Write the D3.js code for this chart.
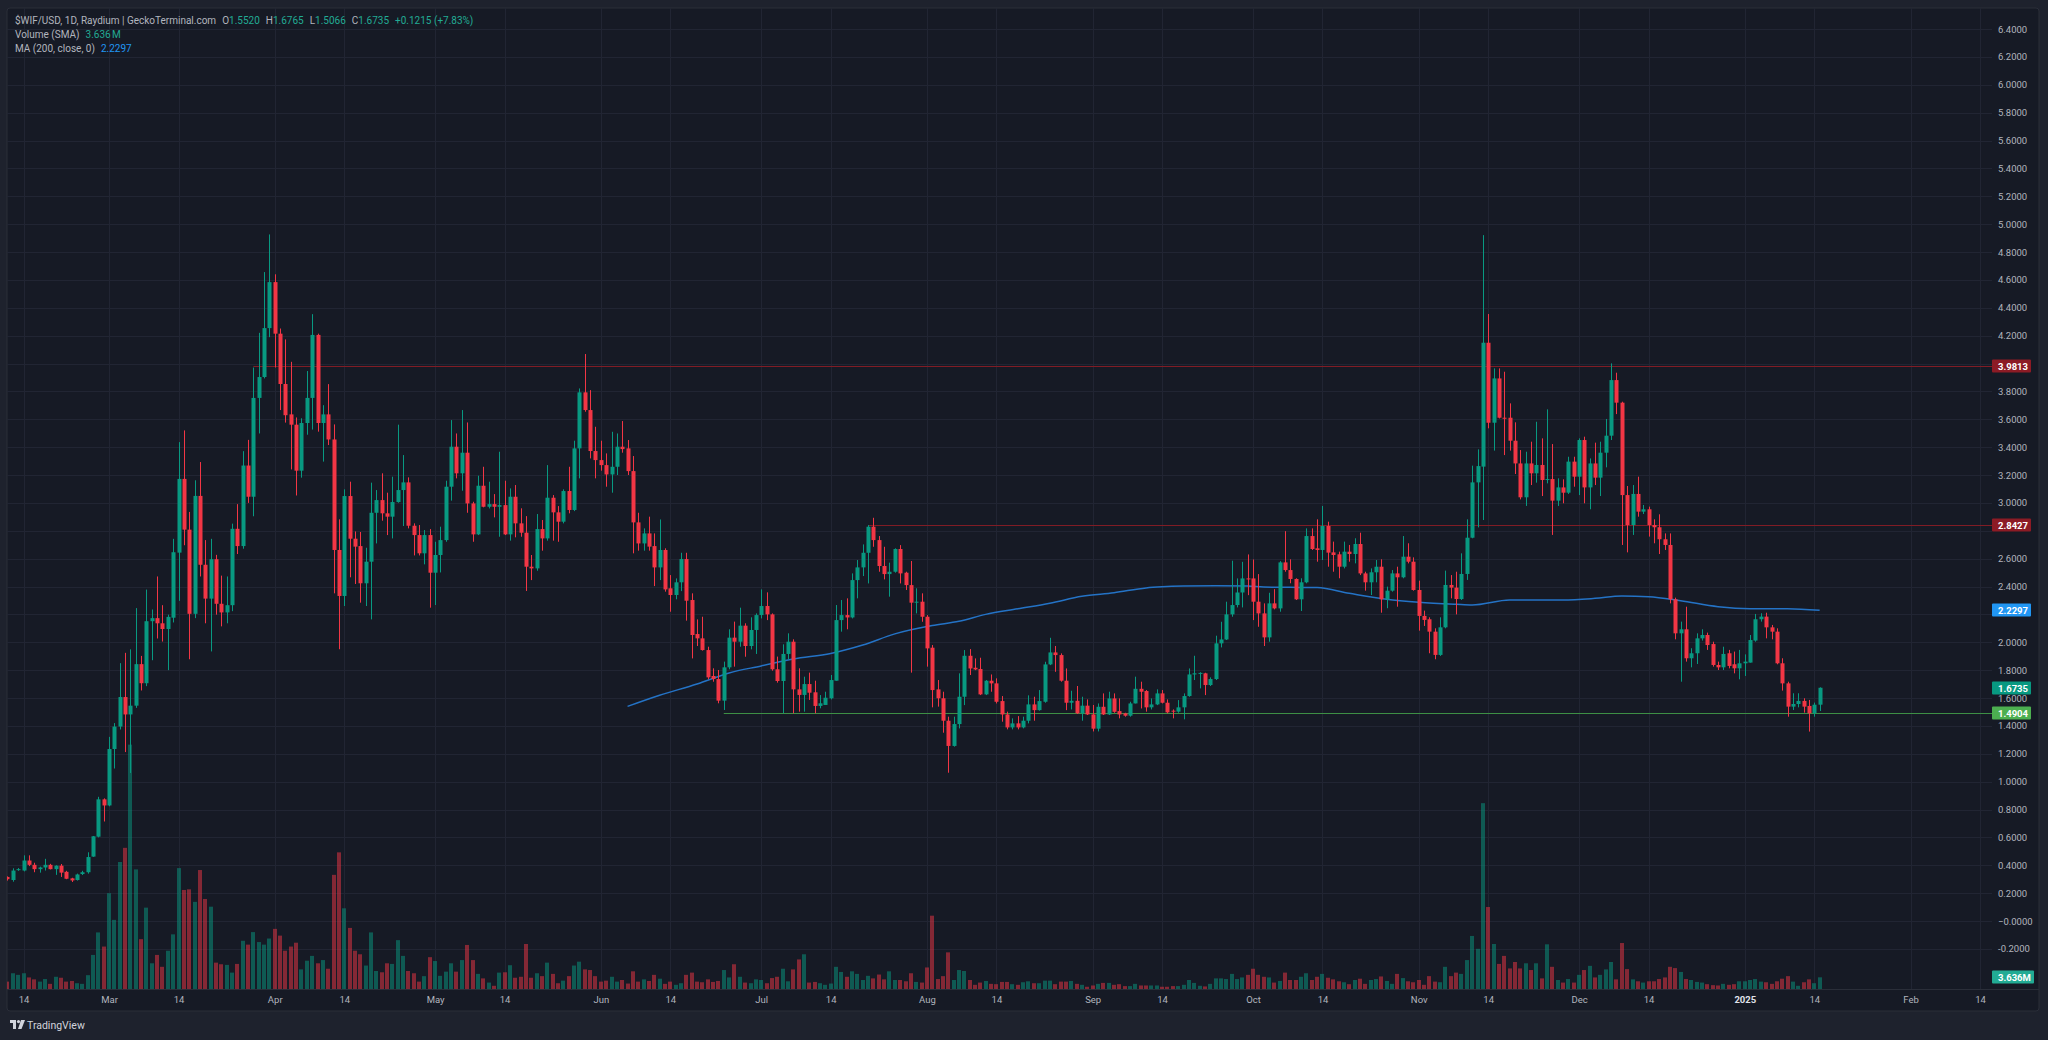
<!doctype html>
<html lang="en">
<head>
<meta charset="utf-8">
<title>$WIF/USD, 1D, Raydium</title>
<style>
  html, body { margin: 0; background: #1e222d; }
  svg { display: block; font-family: Roboto, "Liberation Sans", sans-serif; }
</style>
</head>
<body>
<svg id="chart" width="2048" height="1040"></svg>
<script src="https://cdn.jsdelivr.net/npm/d3@7"></script>
<script>
// ============================================================
// Data (11 Feb 2024 -> 15 Jan 2025)
// one line per month
// ============================================================
const firstDay = "2024-02-11";

const open = [
  0.316,0.294,0.366,0.362,0.434,0.403,0.372,0.384,0.403,0.372,0.397,0.353,0.306,0.294,0.337,0.350,0.462,0.605,0.873,
  0.829,1.234,1.395,1.607,1.482,1.545,1.843,1.706,2.151,2.173,2.136,2.095,2.176,2.643,3.172,2.808,2.204,3.050,2.556,2.313,2.596,2.276,2.214,2.266,2.814,2.690,3.268,3.044,3.753,3.903,4.254,
  4.584,4.214,3.853,3.635,3.561,3.231,3.573,3.753,4.205,3.573,3.635,3.455,2.662,2.332,3.049,2.743,2.690,2.423,2.578,2.929,3.020,2.925,2.901,3.006,3.092,3.147,2.836,2.769,2.638,2.769,
  2.499,2.626,2.733,3.116,3.403,3.212,3.360,2.996,2.774,3.123,2.972,2.991,2.972,2.984,2.774,3.044,2.853,2.786,2.542,2.530,2.812,2.745,3.037,2.932,2.865,3.085,2.949,3.391,3.793,3.666,3.372,
  3.307,3.271,3.204,3.259,3.403,3.391,3.228,2.860,2.709,2.781,2.690,2.537,2.662,2.387,2.339,2.430,2.597,2.303,2.059,2.028,1.944,1.758,1.736,1.581,1.820,2.033,2.004,2.119,1.973,2.088,
  2.195,2.260,2.200,1.806,1.722,1.916,2.004,1.662,1.622,1.700,1.641,1.543,1.550,1.598,1.724,2.159,2.195,2.178,2.446,2.537,2.642,2.829,2.733,2.547,2.489,2.506,2.669,2.499,2.410,2.284,2.291,
  2.183,1.961,1.662,1.598,1.437,1.256,1.413,1.609,1.903,1.817,1.808,1.626,1.724,1.705,1.578,1.482,1.389,1.418,1.389,1.437,1.554,1.513,1.573,1.841,1.927,1.908,1.724,1.566,1.580,1.490,1.545,
  1.482,1.380,1.537,1.482,1.597,1.506,1.490,1.473,1.561,1.666,1.650,1.533,1.554,1.633,1.566,1.509,1.502,1.533,1.614,1.769,1.776,1.777,1.693,1.736,1.992,2.020,2.200,2.267,2.357,2.458,
  2.458,2.291,2.207,2.035,2.279,2.243,2.573,2.518,2.454,2.308,2.430,2.762,2.674,2.662,2.834,2.645,2.631,2.542,2.650,2.633,2.705,2.494,2.430,2.502,2.542,2.308,2.370,2.494,2.466,2.614,2.578,
  2.375,2.189,2.165,2.076,1.909,2.107,2.411,2.392,2.310,2.490,2.750,3.147,3.260,4.149,3.575,3.893,3.611,3.611,3.446,3.283,3.040,3.283,3.212,3.272,3.164,3.171,3.016,3.111,3.073,3.296,
  3.188,3.451,3.111,3.283,3.181,3.360,3.482,3.881,3.719,3.056,2.841,3.064,2.937,2.954,2.841,2.825,2.739,2.698,2.308,2.064,2.093,1.885,1.921,2.028,2.052,1.987,1.837,1.820,1.921,1.842,1.813,
  1.849,1.854,2.012,2.165,2.184,2.107,2.076,1.849,1.705,1.538,1.557,1.579,1.543,1.490,1.5520
];

const high = [
  0.320,0.378,0.380,0.471,0.471,0.418,0.390,0.446,0.410,0.400,0.409,0.360,0.310,0.340,0.360,0.493,0.610,0.891,0.880,
  1.321,1.420,1.850,1.924,1.949,2.245,1.902,2.378,2.235,2.472,2.266,2.198,2.742,3.436,3.520,2.935,3.162,3.293,2.733,2.742,2.627,2.478,2.472,2.851,2.991,3.371,3.452,3.971,4.220,4.656,4.926,
  4.640,4.251,4.173,4.012,3.613,3.607,3.946,4.354,4.214,3.701,3.852,3.563,2.882,3.097,3.152,2.795,2.791,2.678,3.145,3.092,3.212,3.073,3.188,3.561,3.343,3.183,2.853,2.841,2.805,2.812,
  2.721,2.829,3.159,3.594,3.498,3.666,3.577,3.008,3.195,3.259,3.152,3.063,3.367,3.159,3.104,3.128,2.961,2.905,2.626,2.920,2.877,3.271,3.056,2.977,3.097,3.259,3.446,3.821,4.068,3.809,3.546,
  3.446,3.355,3.510,3.498,3.587,3.451,3.336,2.929,2.817,2.901,2.781,2.881,2.674,2.482,2.458,2.642,2.642,2.351,2.164,2.183,1.968,1.813,1.801,1.861,2.093,2.148,2.248,2.136,2.179,2.207,
  2.379,2.358,2.207,1.897,1.985,2.064,2.021,1.813,1.753,1.782,1.724,1.621,1.645,1.765,2.267,2.303,2.315,2.494,2.590,2.702,2.841,2.893,2.762,2.685,2.571,2.674,2.697,2.506,2.583,2.387,2.351,
  2.195,1.980,1.729,1.645,1.466,1.466,1.777,1.944,1.951,1.884,1.889,1.729,1.769,1.741,1.614,1.502,1.454,1.470,1.466,1.619,1.609,1.657,1.860,2.032,1.973,1.920,1.812,1.652,1.686,1.609,1.590,
  1.550,1.561,1.633,1.645,1.633,1.597,1.494,1.573,1.753,1.717,1.657,1.597,1.662,1.657,1.590,1.518,1.585,1.633,1.812,1.903,1.785,1.781,1.748,2.047,2.147,2.291,2.585,2.458,2.577,2.630,
  2.594,2.489,2.279,2.355,2.381,2.582,2.797,2.595,2.459,2.459,2.817,2.817,2.882,2.978,2.865,2.722,2.650,2.722,2.698,2.746,2.786,2.506,2.530,2.590,2.595,2.399,2.518,2.542,2.762,2.710,2.609,
  2.442,2.227,2.179,2.100,2.179,2.514,2.482,2.506,2.638,2.882,3.267,3.384,4.921,4.355,3.965,3.965,3.941,3.714,3.578,3.379,3.367,3.439,3.582,3.463,3.671,3.422,3.176,3.169,3.331,3.331,
  3.463,3.475,3.319,3.432,3.439,3.602,4.001,3.934,3.726,3.121,3.128,3.188,2.985,2.973,2.882,2.918,2.781,2.781,2.320,2.148,2.255,1.957,2.064,2.093,2.069,2.004,1.861,1.968,1.945,1.933,1.945,
  1.913,2.052,2.203,2.208,2.212,2.124,2.100,1.885,1.717,1.634,1.634,1.598,1.586,1.567,1.6765
];

const low = [
  0.290,0.282,0.360,0.356,0.394,0.350,0.347,0.362,0.370,0.331,0.316,0.300,0.280,0.290,0.330,0.340,0.460,0.600,0.714,
  0.823,1.094,1.374,1.212,1.062,1.529,1.654,1.685,1.871,2.027,2.005,1.800,2.142,2.297,2.696,1.878,2.173,2.472,2.136,1.934,2.198,2.114,2.136,2.223,2.633,2.671,3.000,2.904,3.498,3.893,4.189,
  3.971,3.666,3.576,3.240,3.053,3.181,3.489,3.526,3.511,3.296,3.415,2.351,1.950,2.260,2.466,2.418,2.284,2.260,2.164,2.709,2.872,2.769,2.745,3.001,2.834,2.817,2.623,2.623,2.559,2.248,
  2.267,2.501,2.721,3.016,3.176,3.087,2.929,2.721,2.769,2.968,2.960,2.896,2.757,2.769,2.729,2.753,2.757,2.368,2.446,2.513,2.657,2.729,2.729,2.721,2.853,2.925,2.941,3.176,3.654,3.319,3.176,
  3.231,3.116,3.073,3.200,3.360,3.200,2.638,2.657,2.657,2.657,2.403,2.446,2.363,2.219,2.308,2.367,2.155,1.884,1.973,1.940,1.734,1.717,1.562,1.514,1.806,1.825,1.968,1.896,1.949,1.916,
  2.171,2.159,1.796,1.710,1.490,1.877,1.490,1.502,1.502,1.586,1.490,1.526,1.550,1.590,1.724,2.076,2.093,2.171,2.315,2.475,2.422,2.685,2.506,2.451,2.327,2.499,2.422,2.375,1.782,2.207,2.147,
  1.825,1.533,1.538,1.351,1.064,1.251,1.382,1.549,1.765,1.800,1.621,1.621,1.645,1.561,1.430,1.375,1.375,1.375,1.382,1.418,1.437,1.509,1.566,1.836,1.788,1.717,1.513,1.518,1.485,1.437,1.478,
  1.360,1.360,1.478,1.478,1.494,1.454,1.466,1.466,1.561,1.525,1.502,1.518,1.549,1.561,1.490,1.454,1.494,1.447,1.609,1.729,1.669,1.621,1.686,1.729,1.963,2.016,2.183,2.250,2.250,2.338,
  2.159,2.111,1.973,2.004,2.236,2.219,2.506,2.423,2.303,2.224,2.423,2.662,2.578,2.590,2.542,2.506,2.459,2.530,2.578,2.566,2.482,2.370,2.339,2.430,2.212,2.244,2.363,2.255,2.459,2.566,2.370,
  2.083,2.117,1.921,1.878,1.902,2.100,2.315,2.200,2.303,2.447,2.746,2.824,2.877,3.535,3.375,3.606,3.343,3.375,3.207,3.025,2.978,3.128,3.145,3.049,3.140,2.770,2.978,2.997,3.064,3.116,
  3.056,2.997,2.954,3.128,3.049,3.255,3.451,3.637,2.698,2.645,2.770,2.901,2.920,2.758,2.710,2.633,2.662,2.279,2.021,1.717,1.861,1.820,1.844,2.012,1.945,1.825,1.801,1.801,1.813,1.777,1.734,
  1.758,1.854,2.004,2.148,2.028,2.021,1.842,1.653,1.466,1.514,1.533,1.495,1.359,1.466,1.5066
];

const close = [
  0.300,0.362,0.372,0.434,0.403,0.372,0.384,0.403,0.372,0.397,0.347,0.303,0.291,0.334,0.350,0.459,0.608,0.873,0.829,
  1.234,1.395,1.607,1.482,1.545,1.843,1.706,2.151,2.173,2.136,2.095,2.182,2.646,3.172,2.808,2.204,3.050,2.556,2.313,2.596,2.276,2.214,2.266,2.814,2.690,3.268,3.044,3.753,3.903,4.254,4.584,
  4.214,3.853,3.629,3.561,3.231,3.573,3.753,4.205,3.573,3.635,3.455,2.662,2.332,3.049,2.743,2.686,2.423,2.578,2.929,3.020,2.925,2.901,3.006,3.092,3.147,2.836,2.769,2.638,2.769,2.499,
  2.626,2.733,3.116,3.403,3.212,3.360,2.996,2.774,3.123,2.972,2.991,2.972,2.984,2.774,3.044,2.853,2.786,2.542,2.530,2.812,2.745,3.037,2.932,2.865,3.085,2.949,3.391,3.793,3.666,3.372,3.307,
  3.271,3.204,3.259,3.403,3.386,3.228,2.860,2.709,2.781,2.686,2.537,2.662,2.379,2.339,2.430,2.597,2.298,2.052,2.028,1.944,1.748,1.736,1.581,1.820,2.033,2.004,2.119,1.973,2.088,2.195,
  2.260,2.200,1.806,1.722,1.916,2.004,1.662,1.622,1.700,1.638,1.543,1.562,1.602,1.729,2.159,2.195,2.178,2.446,2.537,2.642,2.829,2.733,2.547,2.489,2.506,2.669,2.494,2.410,2.284,2.291,2.183,
  1.956,1.657,1.598,1.437,1.256,1.413,1.609,1.903,1.812,1.805,1.626,1.724,1.705,1.573,1.482,1.389,1.418,1.389,1.437,1.554,1.513,1.578,1.841,1.927,1.908,1.724,1.566,1.580,1.490,1.545,1.482,
  1.380,1.537,1.482,1.597,1.501,1.482,1.473,1.561,1.666,1.645,1.533,1.554,1.633,1.566,1.497,1.502,1.533,1.614,1.769,1.777,1.780,1.693,1.736,1.992,2.020,2.200,2.267,2.357,2.458,2.451,
  2.291,2.207,2.035,2.279,2.243,2.573,2.518,2.454,2.308,2.430,2.762,2.669,2.662,2.834,2.643,2.626,2.542,2.650,2.633,2.705,2.494,2.430,2.502,2.542,2.308,2.370,2.494,2.466,2.614,2.578,2.375,
  2.189,2.160,2.076,1.909,2.107,2.411,2.392,2.310,2.490,2.750,3.147,3.264,4.149,3.575,3.893,3.611,3.606,3.446,3.283,3.040,3.283,3.212,3.272,3.164,3.171,3.016,3.111,3.073,3.296,3.188,
  3.451,3.111,3.283,3.181,3.360,3.482,3.881,3.719,3.056,2.841,3.064,2.937,2.954,2.841,2.825,2.739,2.698,2.308,2.064,2.093,1.885,1.921,2.028,2.052,1.980,1.837,1.820,1.916,1.830,1.813,1.849,
  1.861,2.016,2.165,2.184,2.107,2.076,1.849,1.705,1.538,1.557,1.579,1.538,1.490,1.552,1.6735
];

// volume in millions
const volume = [
  2.3,4.9,4.4,4.9,3.6,3.0,2.3,3.1,1.6,3.8,3.5,2.3,2.5,1.8,1.6,4.3,10.6,17.6,13.2,
  29.8,21.5,39.5,43.9,76.0,37.2,15.5,25.3,8.0,10.6,6.9,11.9,17.0,37.6,30.8,31.0,27.1,37.0,28.0,25.6,8.2,7.7,7.5,5.1,7.8,15.0,13.8,17.7,14.6,13.8,15.7,
  18.7,16.6,11.9,13.2,14.4,6.1,8.8,10.3,8.0,9.0,6.3,35.5,42.5,25.1,19.0,11.9,10.8,7.3,17.6,5.6,5.2,8.0,7.8,15.2,10.3,5.6,4.9,2.3,4.0,9.9,
  8.7,4.1,5.4,8.0,5.4,9.0,13.7,9.0,4.7,3.3,2.0,1.0,5.1,5.2,7.4,3.5,3.8,14.0,3.5,4.9,4.0,8.2,4.7,1.8,2.6,4.0,7.3,8.5,6.1,5.9,4.0,
  2.3,2.6,3.8,2.3,2.8,1.7,5.5,2.3,3.0,2.5,4.4,3.2,1.6,2.3,1.3,1.8,4.4,5.1,2.3,2.1,3.0,2.2,2.5,5.9,3.6,7.7,3.8,2.0,1.8,3.0,
  2.8,1.8,3.4,3.8,6.3,2.4,6.1,9.2,10.8,2.0,2.2,1.8,1.3,1.7,6.9,5.3,3.8,5.5,4.7,2.8,4.1,3.3,4.5,3.0,5.5,2.8,2.8,2.4,4.9,2.2,2.0,
  6.7,22.8,3.1,4.0,11.4,2.8,5.9,5.6,2.8,1.3,2.0,2.5,1.6,1.5,2.2,2.2,1.5,1.3,2.1,2.4,1.8,1.8,2.6,2.6,1.5,2.3,2.3,2.5,1.6,1.3,0.7,
  1.1,1.6,1.9,1.9,1.3,1.5,0.9,0.9,1.6,1.1,1.1,1.1,1.1,0.7,0.7,0.9,0.9,1.3,2.8,1.9,1.0,0.8,1.6,3.3,3.3,3.1,4.7,3.1,3.6,4.4,
  6.3,4.4,3.8,3.6,2.0,2.5,5.1,2.8,2.8,3.8,4.9,2.8,3.8,4.7,3.5,3.0,2.4,2.1,1.5,2.8,3.2,1.6,2.8,3.1,3.9,2.5,1.6,4.7,3.4,2.4,2.1,
  2.8,1.3,4.0,2.3,2.1,6.9,4.0,5.1,4.7,9.0,16.5,12.5,57.8,25.5,14.0,7.8,10.3,6.4,8.4,6.4,8.0,5.9,8.0,3.3,13.9,6.9,2.8,2.0,3.1,2.0,
  4.4,5.9,7.2,3.6,4.4,6.1,8.4,3.0,14.3,6.2,3.0,2.4,2.0,2.4,2.4,3.1,3.6,6.9,6.5,5.3,3.1,2.8,2.2,2.0,1.5,1.2,1.1,1.6,1.3,1.5,2.4,
  2.4,2.8,3.1,2.3,2.1,1.6,2.4,3.2,4.0,2.3,1.0,2.1,3.0,1.8,3.636
];

// MA(200) read at intervals along the line
const maDates = [
  "2024-06-06","2024-06-12","2024-06-19","2024-06-25","2024-07-01","2024-07-07","2024-07-14","2024-07-20",
  "2024-07-26","2024-08-02","2024-08-07","2024-08-12","2024-08-18","2024-08-24","2024-08-30","2024-09-05",
  "2024-09-11","2024-09-14","2024-09-18","2024-09-24","2024-09-30","2024-10-03","2024-10-08","2024-10-13",
  "2024-10-19","2024-10-26","2024-11-01","2024-11-08","2024-11-11","2024-11-18","2024-11-28","2024-12-04",
  "2024-12-09","2024-12-14","2024-12-20","2024-12-27","2025-01-02","2025-01-09","2025-01-15"
];
const maValues = [
  1.54,1.62,1.70,1.78,1.83,1.88,1.92,1.98,
  2.06,2.12,2.15,2.20,2.24,2.28,2.33,2.355,
  2.39,2.398,2.403,2.405,2.403,2.396,2.394,2.392,
  2.351,2.308,2.287,2.272,2.267,2.303,2.303,2.315,
  2.332,2.327,2.298,2.255,2.241,2.241,2.2297
];

// horizontal drawings: price and the day each starts
const levelPrices = [3.9813, 2.8427, 1.4904];
const levelStarts = ["2024-03-28", "2024-07-21", "2024-06-24"];

const timeTicks = [
  "2024-02-14","2024-03-01","2024-03-14","2024-04-01","2024-04-14","2024-05-01","2024-05-14",
  "2024-06-01","2024-06-14","2024-07-01","2024-07-14","2024-08-01","2024-08-14","2024-09-01",
  "2024-09-14","2024-10-01","2024-10-14","2024-11-01","2024-11-14","2024-12-01","2024-12-14",
  "2025-01-01","2025-01-14","2025-02-01","2025-02-14"
];

// ============================================================
// Layout
// ============================================================
const n = close.length;
if ([open, high, low, volume].some(a => a.length !== n)) {
  throw new Error("length mismatch " + [open.length, high.length, low.length, close.length, volume.length].join(","));
}

const UP = "#089981", DOWN = "#f23645";
const BG = "#161a25", GRID = "#212533", TXT = "#b2b5be";
const paneL = 7, paneR = 1992, paneT = 8, paneB = 989;

const day = d => new Date(d + "T00:00:00Z");
const t0 = day(firstDay).getTime();
const dates = d3.range(n).map(i => new Date(t0 + i * 86400000));

const x = d3.scaleUtc()
  .domain([day("2024-02-14"), day("2025-02-14")])
  .range([23.5, 1980]);
const y = d3.scaleLinear().domain([0, 6.4]).range([921, 29]);
const yVol = d3.scaleLinear().domain([0, 60]).range([paneB, paneB - 60 / 0.311]);

const svg = d3.select("#chart");

svg.append("rect").attr("width", 2048).attr("height", 1040).attr("fill", "#1e222d");
svg.append("rect")
  .attr("x", paneL).attr("y", paneT)
  .attr("width", 2039 - paneL).attr("height", 1011 - paneT)
  .attr("rx", 3).attr("fill", BG).attr("stroke", "#2a2e39");

svg.append("clipPath").attr("id", "pane")
  .append("rect").attr("x", paneL).attr("y", paneT)
  .attr("width", paneR - paneL).attr("height", paneB - paneT);

const priceTicks = d3.range(-1, 33).map(k => k * 0.2);

// grid
const grid = svg.append("g").attr("clip-path", "url(#pane)");
grid.selectAll(".gh").data(priceTicks).join("line")
  .attr("x1", paneL).attr("x2", paneR)
  .attr("y1", d => Math.round(y(d)) + 0.5).attr("y2", d => Math.round(y(d)) + 0.5)
  .attr("stroke", GRID);
grid.selectAll(".gv").data(timeTicks).join("line")
  .attr("x1", d => Math.round(x(day(d))) + 0.5).attr("x2", d => Math.round(x(day(d))) + 0.5)
  .attr("y1", paneT).attr("y2", paneB)
  .attr("stroke", GRID);

const plot = svg.append("g").attr("clip-path", "url(#pane)");

// volume
const isUp = i => close[i] >= open[i];
plot.append("g").selectAll("rect").data(d3.range(n)).join("rect")
  .attr("x", i => Math.round(x(dates[i])) - 2)
  .attr("width", 4)
  .attr("y", i => yVol(volume[i]))
  .attr("height", i => paneB - yVol(volume[i]))
  .attr("fill", i => isUp(i) ? "rgba(8,153,129,0.5)" : "rgba(242,54,69,0.5)");

// horizontal levels
const levelColors = ["#801c25", "#801c25", "#3d8f45"];
plot.append("g").selectAll("line").data(levelPrices).join("line")
  .attr("x1", (d, i) => x(day(levelStarts[i])))
  .attr("x2", paneR)
  .attr("y1", d => Math.round(y(d)) + 0.5).attr("y2", d => Math.round(y(d)) + 0.5)
  .attr("stroke", (d, i) => levelColors[i]).attr("stroke-width", 1);

// MA(200)
plot.append("path")
  .datum(maDates.map((d, i) => [day(d), maValues[i]]))
  .attr("fill", "none").attr("stroke", "#2473c6").attr("stroke-width", 1.5)
  .attr("d", d3.line().x(d => x(d[0])).y(d => y(d[1])).curve(d3.curveMonotoneX));

// candles
const candle = plot.append("g").selectAll("g").data(d3.range(n)).join("g");
candle.append("line")
  .attr("x1", i => Math.round(x(dates[i])) + 0.5).attr("x2", i => Math.round(x(dates[i])) + 0.5)
  .attr("y1", i => y(high[i])).attr("y2", i => y(low[i]))
  .attr("stroke", i => isUp(i) ? UP : DOWN);
candle.append("rect")
  .attr("x", i => Math.round(x(dates[i])) - 1.5)
  .attr("width", 4)
  .attr("y", i => y(Math.max(open[i], close[i])))
  .attr("height", i => Math.max(1, Math.abs(y(open[i]) - y(close[i]))))
  .attr("fill", i => isUp(i) ? UP : DOWN);

// pane / time-axis separator
svg.append("line").attr("x1", paneL).attr("x2", 2039)
  .attr("y1", paneB + 0.5).attr("y2", paneB + 0.5).attr("stroke", "#2a2e39");

// price tags on the scale (built first so covered tick labels can be skipped)
const last = n - 1;
const maLast = maValues[maValues.length - 1];
const tags = [
  { y: y(levelPrices[0]), bg: "#8c1b25", label: levelPrices[0].toFixed(4) },
  { y: y(levelPrices[1]), bg: "#8c1b25", label: levelPrices[1].toFixed(4) },
  { y: y(maLast), bg: "#2196f3", label: maLast.toFixed(4) },
  { y: y(close[last]), bg: UP, label: close[last].toFixed(4) },
  { y: y(levelPrices[2]), bg: "#4caf50", label: levelPrices[2].toFixed(4) },
  { y: yVol(volume[last]), bg: "#22ab94", label: volume[last].toFixed(3) + "M", w: 42 }
];
const covered = v => tags.some(t => Math.abs(t.y - y(v)) < 8);

// price scale
const priceAxis = svg.append("g")
  .attr("transform", `translate(${paneR},0)`)
  .call(d3.axisRight(y).tickValues(priceTicks.filter(v => !covered(v))).tickSize(0).tickPadding(6)
    .tickFormat(d => Math.abs(d) < 1e-9 ? "\u22120.0000" : d.toFixed(4)));
priceAxis.select(".domain").remove();
priceAxis.selectAll("text").attr("fill", TXT).attr("font-size", 9.5)
  .attr("font-family", "Roboto, sans-serif");

// time scale
const timeAxis = svg.append("g")
  .attr("transform", `translate(0,${paneB})`)
  .call(d3.axisBottom(x).tickValues(timeTicks.map(day)).tickSize(0).tickPadding(7)
    .tickFormat(d => d.getUTCDate() !== 1 ? String(d.getUTCDate())
      : d.getUTCMonth() === 0 ? String(d.getUTCFullYear()) : d3.utcFormat("%b")(d)));
timeAxis.select(".domain").remove();
timeAxis.selectAll("text")
  .attr("fill", d => d.getUTCMonth() === 0 && d.getUTCDate() === 1 ? "#e0e3eb" : TXT)
  .attr("font-weight", d => d.getUTCMonth() === 0 && d.getUTCDate() === 1 ? 700 : 400)
  .attr("font-size", 9.5).attr("font-family", "Roboto, sans-serif");

const tagG = svg.append("g").selectAll("g").data(tags).join("g")
  .attr("transform", d => `translate(${paneR},${Math.round(d.y)})`);
tagG.append("rect").attr("x", 0).attr("y", -6.5).attr("width", d => d.w || 39).attr("height", 13)
  .attr("rx", 1).attr("fill", d => d.bg);
tagG.append("text").attr("x", 6).attr("y", 3.5).attr("fill", "#fff")
  .attr("font-size", 9.5).attr("font-weight", 700).text(d => d.label);

// legend
const chg = close[last] - close[last - 1];
const legend = svg.append("g").attr("font-size", 10);
const l1 = legend.append("text").attr("x", 15).attr("y", 24).attr("fill", TXT);
l1.append("tspan").text("$WIF/USD, 1D, Raydium | GeckoTerminal.com");
[["O", open[last]], ["H", high[last]], ["L", low[last]], ["C", close[last]]].forEach(([k, v]) => {
  l1.append("tspan").attr("dx", 6).text(k);
  l1.append("tspan").attr("fill", "#22ab94").text(v.toFixed(4));
});
l1.append("tspan").attr("dx", 6).attr("fill", "#22ab94")
  .text(`+${chg.toFixed(4)} (+${(chg / close[last - 1] * 100).toFixed(2)}%)`);

const l2 = legend.append("text").attr("x", 15).attr("y", 38).attr("fill", TXT);
l2.append("tspan").text("Volume (SMA)");
l2.append("tspan").attr("dx", 6).attr("fill", "#22ab94").text(volume[last].toFixed(3) + "\u202fM");

const l3 = legend.append("text").attr("x", 15).attr("y", 52).attr("fill", TXT);
l3.append("tspan").text("MA (200, close, 0)");
l3.append("tspan").attr("dx", 6).attr("fill", "#2196f3").text(maLast.toFixed(4));

// TradingView mark
const logo = svg.append("g").attr("transform", "translate(10,1020)").attr("fill", "#d1d4dc");
logo.append("path").attr("d", "M0 0H6V9H3V3H0Z");
logo.append("circle").attr("cx", 8.5).attr("cy", 1.6).attr("r", 1.6);
logo.append("path").attr("d", "M11 0H15L11.5 9H8Z");
svg.append("text").attr("x", 27).attr("y", 1029).attr("fill", "#d1d4dc")
  .attr("font-size", 10.5).text("TradingView");
</script>
</body>
</html>
